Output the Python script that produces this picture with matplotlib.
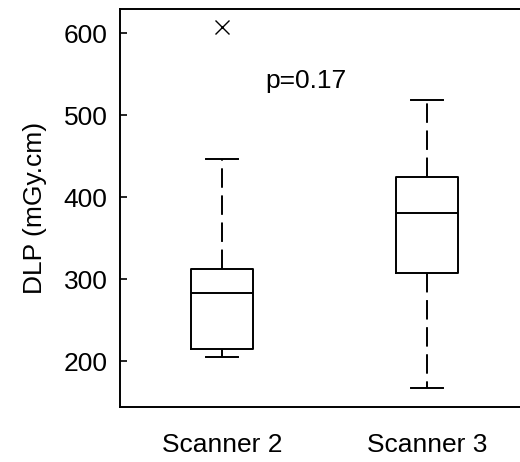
import matplotlib

matplotlib.use("Agg")
import matplotlib.pyplot as plt
from matplotlib import font_manager

# values
scanners = ["Scanner 2", "Scanner 3"]
whisker_low = [205, 167]
quartile_1 = [215, 307]
medians = [283, 380]
quartile_3 = [312, 424]
whisker_high = [446, 518]
outliers = [[607], []]
p_text = "p=0.17"
y_ticks = [200, 300, 400, 500, 600]

names = {f.name for f in font_manager.fontManager.ttflist}
if "Liberation Sans Narrow" in names:
    plt.rcParams["font.family"] = ["Liberation Sans Narrow", "DejaVu Sans"]
    fs = 21
else:
    plt.rcParams["font.family"] = ["Liberation Sans", "DejaVu Sans"]
    fs = 19
plt.rcParams["lines.scale_dashes"] = False

fig = plt.figure(figsize=(5.2, 4.62), dpi=100)
ax = fig.add_axes([120 / 520, 55 / 462, 400 / 520, 398 / 462])

stats = []
for i, name in enumerate(scanners):
    stats.append(
        {
            "label": name,
            "whislo": whisker_low[i],
            "q1": quartile_1[i],
            "med": medians[i],
            "q3": quartile_3[i],
            "whishi": whisker_high[i],
            "fliers": outliers[i],
        }
    )

ax.bxp(
    stats,
    positions=[1, 2],
    widths=0.30,
    capwidths=0.157,
    boxprops=dict(color="black", linewidth=1.4),
    medianprops=dict(color="black", linewidth=1.4),
    whiskerprops=dict(color="black", linewidth=1.4, linestyle=(0, (14, 5.5))),
    capprops=dict(color="black", linewidth=1.4),
    flierprops=dict(marker="x", markersize=10, markeredgecolor="black", markeredgewidth=1.0),
)

ax.text(1.41, 533, p_text, fontsize=fs, ha="center", va="baseline")

ax.set_xlim(0.5024, 2.4537)
ax.set_ylim(143.9, 629.3)
ax.set_yticks(y_ticks)
ax.set_xticks([1, 2])
ax.set_xticklabels(scanners)
ax.tick_params(axis="y", direction="in", length=5, width=1.2, pad=9, labelsize=fs)
ax.tick_params(axis="x", length=0, pad=19, labelsize=fs)
ax.set_ylabel("DLP (mGy.cm)", fontsize=fs, labelpad=12)

ax.spines["right"].set_visible(False)
for side in ["left", "top", "bottom"]:
    ax.spines[side].set_linewidth(1.4)
    ax.spines[side].set_color("black")

fig.savefig("out.png", dpi=100)
plt.close(fig)
